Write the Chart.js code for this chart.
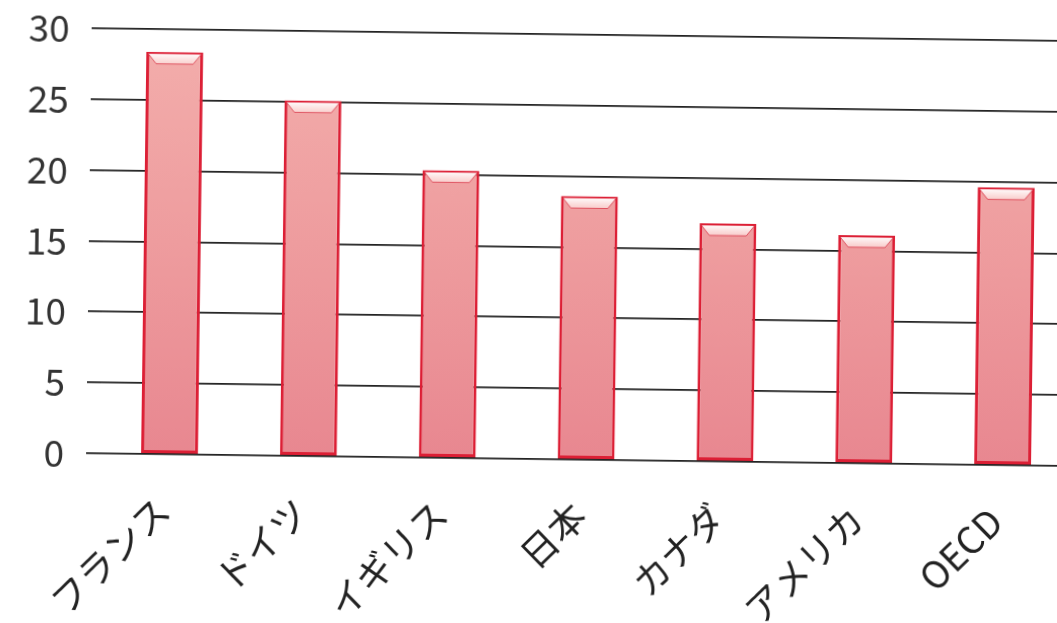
<!DOCTYPE html>
<html>
<head>
<meta charset="utf-8">
<script src="https://cdn.jsdelivr.net/npm/chart.js@4"></script>
<style>
  html, body { margin: 0; padding: 0; background: #fff; overflow: hidden; }
  #wrap {
    width: 1090px; height: 623px;
    transform: rotate(0.75deg);
    transform-origin: 528px 311px;
  }
</style>
</head>
<body>
<div id="wrap"><canvas id="myChart"></canvas></div>
<script>
let labels = ["フランス", "ドイツ", "イギリス", "日本", "カナダ", "アメリカ", "OECD"];
let data = [28.4, 25.1, 20.3, 18.6, 16.8, 16.1, 19.6];
let yTicks = [0, 5, 10, 15, 20, 25, 30];

let font = "'Noto Sans CJK JP', 'Noto Sans', sans-serif";

// light bevel on the top of each bar, like the Excel style
const bevel = {
  id: "bevel",
  afterDatasetsDraw(chart) {
    const ctx = chart.ctx;
    chart.getDatasetMeta(0).data.forEach(function (bar) {
      const w = bar.width;
      const l = bar.x - w / 2 + 2, r = bar.x + w / 2 - 2;
      const t = bar.y + 2, h = 10, inset = 8;
      ctx.save();
      const g = ctx.createLinearGradient(0, t, 0, t + h);
      g.addColorStop(0, "rgba(255,255,255,0.95)");
      g.addColorStop(1, "rgba(255,235,232,0.6)");
      ctx.fillStyle = g;
      ctx.beginPath();
      ctx.moveTo(l, t);
      ctx.lineTo(r, t);
      ctx.lineTo(r - inset, t + h);
      ctx.lineTo(l + inset, t + h);
      ctx.closePath();
      ctx.fill();
      ctx.strokeStyle = "rgba(214,40,60,0.7)";
      ctx.lineWidth = 1;
      ctx.beginPath();
      ctx.moveTo(l, t); ctx.lineTo(l + inset, t + h); ctx.lineTo(r - inset, t + h); ctx.lineTo(r, t);
      ctx.stroke();
      ctx.restore();
    });
  }
};

function barFill(context) {
  const area = context.chart.chartArea;
  if (!area) return "#ef9fa3";
  const g = context.chart.ctx.createLinearGradient(0, area.top, 0, area.bottom);
  g.addColorStop(0, "#f3aeac");
  g.addColorStop(0.5, "#ee9c9e");
  g.addColorStop(1, "#e88790");
  return g;
}

let myChart = document.getElementById("myChart").getContext("2d");

let chart = new Chart(myChart, {
  type: "bar",
  data: {
    labels: labels,
    datasets: [
      {
        data: data,
        backgroundColor: barFill,
        borderColor: "#dc1f35",
        borderWidth: 3,
        borderSkipped: false,
        categoryPercentage: 1,
        barPercentage: 0.41,
      },
    ],
  },
  options: {
    responsive: true,
    maintainAspectRatio: false,
    animation: false,
    layout: { padding: { top: 34, right: 16, left: 0, bottom: 0 } },
    plugins: {
      legend: { display: false },
      tooltip: { enabled: false },
    },
    scales: {
      x: {
        grid: { display: false },
        border: { display: false },
        afterFit: function (scale) { scale.height = 164; },
        ticks: {
          autoSkip: false,
          minRotation: 45,
          maxRotation: 45,
          padding: 26,
          labelOffset: -6,
          color: "#222",
          font: { family: font, size: 37 },
        },
      },
      y: {
        min: 0,
        max: 30,
        afterFit: function (scale) {
          scale.width = 102;
          scale.paddingTop = 0;
          scale.paddingBottom = 0;
        },
        afterBuildTicks: function (scale) {
          scale.ticks = yTicks.map(function (v) { return { value: v }; });
        },
        border: { display: false },
        grid: {
          color: "#222",
          lineWidth: 1.8,
          drawTicks: true,
          tickLength: 14,
        },
        ticks: {
          padding: 22,
          color: "#333",
          font: { family: font, size: 37 },
        },
      },
    },
  },
  plugins: [bevel],
});
</script>
</body>
</html>
